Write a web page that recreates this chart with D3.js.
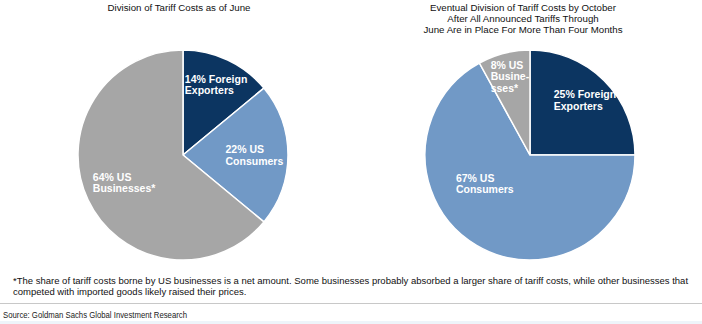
<!DOCTYPE html>
<html><head><meta charset="utf-8">
<script src="https://cdn.jsdelivr.net/npm/d3@7"></script>
<style>
body{margin:0;background:#fff;}
svg{display:block;font-family:"Liberation Sans",Arial,sans-serif;}
</style></head>
<body><svg id="c" width="702" height="324"></svg>
<script>
// ---- data ----
const categories = ["Foreign Exporters", "US Consumers", "US Businesses"];
const juneShares = [14, 22, 64];
const octoberShares = [25, 67, 8];
const juneLabels = [["14% Foreign", "Exporters"], ["22% US", "Consumers"], ["64% US", "Businesses*"]];
const octoberLabels = [["25% Foreign", "Exporters"], ["67% US", "Consumers"], ["8% US", "Busine-", "sses*"]];
const juneTitle = ["Division of Tariff Costs as of June"];
const octoberTitle = ["Eventual Division of Tariff Costs by October", "After All Announced Tariffs Through", "June Are in Place For More Than Four Months"];
const footnote = ["*The share of tariff costs borne by US businesses is a net amount. Some businesses probably absorbed a larger share of tariff costs, while other businesses that",
                  "competed with imported goods likely raised their prices."];
const source = "Source: Goldman Sachs Global Investment Research";

// ---- layout / style ----
const colors = d3.scaleOrdinal().domain(categories).range(["#0c3561", "#7199c6", "#a6a6a6"]);
const svg = d3.select("#c");
const R = 105;
const pies = [
  {cx: 183, cy: 155, values: juneShares, labels: juneLabels, title: juneTitle, tx: 179,
   // label block centre relative to pie centre: [radius factor, extra angle (deg)]
   lab: [[0.74, 0], [0.68, 0], [0.62, 0]]},
  {cx: 530, cy: 155, values: octoberShares, labels: octoberLabels, title: octoberTitle, tx: 523,
   lab: [[0.74, 0], [0.51, 27], [0.77, 0]]}
];

const pieGen = d3.pie().sort(null).value(d => d.v);
const arcGen = d3.arc().innerRadius(0).outerRadius(R);

pies.forEach(p => {
  const data = categories.map((c, i) => ({c, v: p.values[i], lab: p.labels[i], pos: p.lab[i]}));
  const g = svg.append("g").attr("transform", `translate(${p.cx},${p.cy})`);
  const arcs = pieGen(data);
  g.selectAll("path").data(arcs).join("path")
    .attr("d", arcGen)
    .attr("fill", d => colors(d.data.c))
    .attr("stroke", "#fff").attr("stroke-width", 1.5);

  arcs.forEach(a => {
    const mid = (a.startAngle + a.endAngle) / 2 + a.data.pos[1] * Math.PI / 180;
    const rr = a.data.pos[0] * R;
    const x = Math.sin(mid) * rr, y = -Math.cos(mid) * rr;
    const lines = a.data.lab;
    const t = g.append("text").attr("fill", "#fff").attr("font-weight", "bold").attr("font-size", 10.5);
    lines.forEach((l, i) => t.append("tspan").attr("x", 0).attr("y", i * 11.5).text(l));
    const w = d3.max(t.selectAll("tspan").nodes(), n => n.getComputedTextLength());
    const h = (lines.length - 1) * 11.5;
    t.attr("transform", `translate(${x - w / 2},${y - h / 2 + 3.8})`);
  });

  const tt = svg.append("text").attr("text-anchor", "middle").attr("font-size", 9.7).attr("fill", "#111");
  p.title.forEach((l, i) => tt.append("tspan").attr("x", p.tx).attr("y", 10.5 + i * 11).text(l));
});

const fn = svg.append("text").attr("font-size", 9.5).attr("fill", "#111");
footnote.forEach((l, i) => fn.append("tspan").attr("x", 13).attr("y", 283.5 + i * 11).text(l));

svg.append("line").attr("x1", 0).attr("x2", 702).attr("y1", 303.5).attr("y2", 303.5)
  .attr("stroke", "#c8c8c8").attr("stroke-width", 1);

svg.append("text").attr("x", 3).attr("y", 317.5).attr("font-size", 9)
  .attr("textLength", 184).attr("lengthAdjust", "spacingAndGlyphs")
  .attr("fill", "#222").text(source);

svg.append("rect").attr("x", 0).attr("y", 321).attr("width", 702).attr("height", 3).attr("fill", "#eef4fa");
</script></body></html>
